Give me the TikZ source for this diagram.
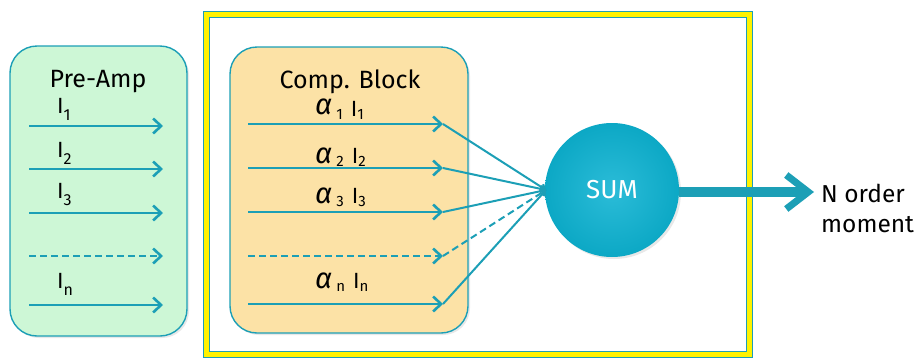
\documentclass[tikz,border=0pt]{standalone}
\usepackage{fontspec}
\setmainfont{Fira Sans}
\usetikzlibrary{arrows.meta,shadows}
\definecolor{tealline}{HTML}{1C9FB6}
\definecolor{greenfill}{HTML}{CDF7D6}
\definecolor{orangefill}{HTML}{FCE2A6}
\definecolor{sumfill}{HTML}{0CA8C5}
\definecolor{sumlight}{HTML}{2BBCD8}
\tikzset{
  box/.style={draw=tealline, line width=1.4pt, rounded corners=27pt, inner sep=0pt,
              drop shadow={opacity=0.18, shadow xshift=2pt, shadow yshift=-2pt}},
  sig/.style={draw=tealline, line width=2.6pt, -{Straight Barb[length=8pt,width=15pt,line width=2.6pt]}},
  feed/.style={draw=tealline, line width=2pt, -{Straight Barb[length=4pt,width=7pt]}},
  title/.style={font=\fontsize{25}{27}\selectfont, anchor=base, inner sep=0pt},
  lab/.style={font=\fontsize{22}{24}\selectfont, anchor=base west, inner sep=0pt},
}
\newcommand{\preI}[1]{I\raisebox{-7pt}{\fontsize{16}{16}\selectfont #1}}
\newcommand{\compL}[2][0pt]{\raisebox{#1}{\fontsize{29}{29}\selectfont\itshape α}\hspace{4pt}\raisebox{-3pt}{\fontsize{15}{15}\selectfont #2}\hspace{8pt}I\raisebox{-3pt}{\fontsize{15}{15}\selectfont #2}}
\begin{document}
\begin{tikzpicture}[x=1pt,y=-1pt]
\useasboundingbox (0,0) rectangle (916,362);
% outer yellow frame
\node[draw=tealline, double=yellow, double distance=5.5pt, line width=0.9pt, inner sep=0pt,
      minimum width=543pt, minimum height=340pt] (frame) at (478,184.5) {};
% boxes
\node[box, fill=greenfill, minimum width=177pt, minimum height=290pt] (pre) at (98.5,191) {};
\node[box, fill=orangefill, minimum width=238pt, minimum height=286pt] (comp) at (349,190) {};
\node[title] (pretitle) at (98,87) {Pre-Amp};
\node[title] (comptitle) at (350,88) {Comp. Block};
% arrow end points
\foreach \n/\y/\z in {1/126/124,2/169/168,3/213/212,4/256/256,5/305/304}{
  \coordinate (ps\n) at (29,\y);
  \coordinate (pe\n) at (163,\y);
  \coordinate (cs\n) at (248,\z);
  \coordinate (ce\n) at (443,\z);
}
% pre-amp arrows
\draw[sig] (ps1) -- (pe1);
\draw[sig] (ps2) -- (pe2);
\draw[sig] (ps3) -- (pe3);
\draw[sig, dashed, dash pattern=on 7pt off 4pt] (ps4) -- (pe4);
\draw[sig] (ps5) -- (pe5);
\node[lab] (l1) at (57,113) {\preI{1}};
\node[lab] (l2) at (57,157) {\preI{2}};
\node[lab] (l3) at (57,198) {\preI{3}};
\node[lab] (l5) at (57,288) {\preI{n}};
% comp arrows
\draw[sig] (cs1) -- (ce1);
\draw[sig] (cs2) -- (ce2);
\draw[sig] (cs3) -- (ce3);
\draw[sig, dashed, dash pattern=on 7pt off 4pt] (cs4) -- (ce4);
\draw[sig] (cs5) -- (ce5);
\node[lab] (a1) at (315,116) {\compL[2pt]{1}};
\node[lab] (a2) at (315,163) {\compL{2}};
\node[lab] (a3) at (315,203) {\compL{3}};
\node[lab] (a5) at (315,288) {\compL{n}};
% sum
\node[circle, inner color=sumlight, outer color=sumfill, minimum size=134pt, inner sep=0pt,
      drop shadow={opacity=0.18, shadow xshift=2pt, shadow yshift=-2pt},
      text=white, font=\fontsize{26}{28}\selectfont] (sum) at (612,190) {\raisebox{-3pt}{SUM}};
\coordinate (conv) at (546,190);
\draw[feed] (ce1) -- (conv);
\draw[feed] (ce2) -- (conv);
\draw[feed] (ce3) -- (conv);
\draw[feed, dashed, dash pattern=on 7pt off 4pt] (ce4) -- (conv);
\draw[feed] (ce5) -- (conv);
% output
\coordinate (outend) at (814,192);
\draw[draw=tealline, line width=9.5pt, -{Straight Barb[length=22pt,width=34pt,line width=7pt]}] (sum.east |- outend) -- (outend);
\node[anchor=base west, inner sep=0pt, font=\fontsize{24.5}{26}\selectfont] (out1) at (821,202) {N order};
\node[anchor=base west, inner sep=0pt, font=\fontsize{24.5}{26}\selectfont] (out2) at (821,232) {moment};
\end{tikzpicture}
\end{document}
